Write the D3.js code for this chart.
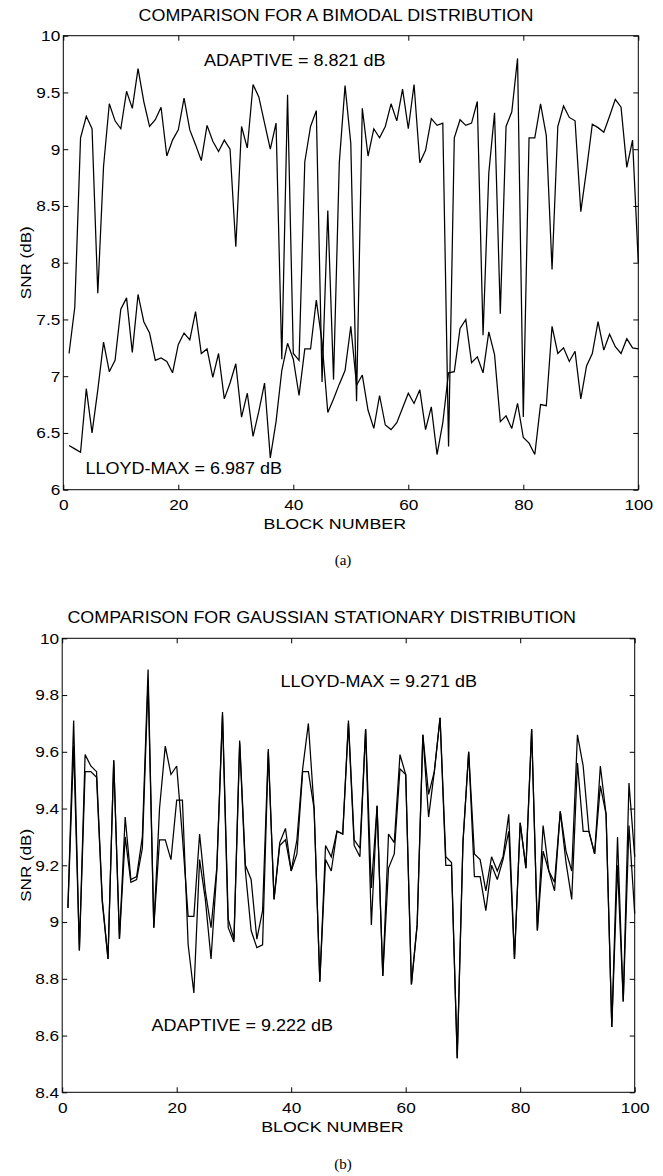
<!DOCTYPE html>
<html><head><meta charset="utf-8">
<script src="https://cdn.jsdelivr.net/npm/d3@7"></script>
<style>body{margin:0;background:#fff}svg{display:block}</style>
</head><body>
<svg id="c" width="663" height="1176"></svg>
<script>
const blocks = d3.range(1, 101);

const bimodalAdaptive = [7.20,7.61,9.10,9.29,9.18,7.73,8.85,9.40,9.25,9.18,
9.51,9.36,9.71,9.42,9.20,9.26,9.37,8.94,9.08,9.17,
9.45,9.17,9.04,8.90,9.21,9.07,8.98,9.08,9.00,8.14,
9.20,9.01,9.57,9.46,9.23,9.00,9.23,7.15,9.48,7.20,
7.14,8.89,9.20,9.34,6.95,8.46,6.97,8.88,9.56,9.05,
6.78,9.36,8.94,9.18,9.10,9.20,9.40,9.25,9.53,9.18,
9.57,8.88,8.99,9.27,9.21,9.23,6.38,9.10,9.26,9.21,
9.23,9.42,7.36,8.79,9.32,7.55,9.20,9.33,9.80,6.64,
9.10,9.10,9.40,9.12,7.94,9.20,9.38,9.28,9.25,8.45,
8.82,9.22,9.19,9.15,9.29,9.44,9.37,8.84,9.08,8.00];

const bimodalLloyd = [6.39,6.36,6.33,6.89,6.50,6.88,7.30,7.04,7.14,7.59,
7.69,7.21,7.72,7.48,7.38,7.14,7.16,7.13,7.03,7.28,
7.38,7.32,7.57,7.20,7.24,6.99,7.20,6.80,6.94,7.11,
6.64,6.85,6.47,6.69,6.94,6.28,6.60,7.05,7.29,7.15,
6.83,7.24,7.24,7.67,7.30,6.68,6.80,6.93,7.05,7.44,
6.92,7.01,6.70,6.54,6.83,6.57,6.53,6.59,6.72,6.85,
6.76,6.88,6.53,6.73,6.31,6.59,7.03,7.04,7.42,7.50,
7.12,7.17,7.03,7.39,7.19,6.60,6.65,6.54,6.76,6.46,
6.41,6.31,6.75,6.74,7.44,7.20,7.25,7.13,7.22,6.80,
7.09,7.20,7.48,7.23,7.37,7.26,7.20,7.33,7.25,7.24];

const gaussLloyd = [9.05,9.71,8.90,9.59,9.55,9.53,9.08,8.87,9.57,8.94,
9.37,9.15,9.16,9.30,9.89,8.98,9.40,9.62,9.52,9.55,
9.30,9.02,9.02,9.31,9.11,8.98,9.19,9.74,9.01,8.94,
9.64,9.20,9.15,8.94,9.04,9.61,9.08,9.28,9.33,9.18,
9.29,9.54,9.70,9.40,8.79,9.27,9.23,9.32,9.31,9.71,
9.29,9.26,9.68,9.12,9.41,8.81,9.31,9.28,9.59,9.52,
8.78,8.99,9.66,9.45,9.53,9.72,9.23,9.21,8.52,9.28,
9.60,9.24,9.22,9.11,9.23,9.18,9.23,9.38,8.87,9.35,
9.19,9.68,8.97,9.34,9.18,9.14,9.39,9.25,9.18,9.66,
9.55,9.32,9.24,9.55,9.38,8.63,9.30,8.72,9.49,9.23];

const gaussAdaptive = [9.05,9.62,8.90,9.53,9.53,9.51,9.07,8.87,9.57,8.94,
9.30,9.14,9.15,9.26,9.85,8.98,9.29,9.29,9.22,9.43,
9.43,8.92,8.75,9.22,9.08,8.87,9.18,9.73,8.98,8.93,
9.63,9.18,8.97,8.91,8.92,9.60,9.08,9.27,9.29,9.18,
9.24,9.53,9.53,9.40,8.79,9.22,9.18,9.32,9.31,9.70,
9.27,9.23,9.68,8.99,9.41,8.81,9.19,9.24,9.54,9.52,
8.78,8.99,9.66,9.37,9.53,9.72,9.20,9.20,8.52,9.28,
9.60,9.16,9.16,9.04,9.20,9.15,9.22,9.32,8.87,9.35,
9.19,9.68,8.97,9.25,9.18,9.11,9.39,9.21,9.08,9.56,
9.32,9.32,9.24,9.48,9.38,8.63,9.20,8.72,9.34,9.03];

const xTicks = [0, 20, 40, 60, 80, 100];
const yTicksA = [6, 6.5, 7, 7.5, 8, 8.5, 9, 9.5, 10];
const yTicksB = [8.4, 8.6, 8.8, 9, 9.2, 9.4, 9.6, 9.8, 10];

const titleA = "COMPARISON FOR A BIMODAL DISTRIBUTION";
const titleB = "COMPARISON FOR GAUSSIAN STATIONARY DISTRIBUTION";
const xLabel = "BLOCK NUMBER";
const yLabel = "SNR (dB)";

const svg = d3.select("#c");
const FONT = '"Liberation Sans", Arial, Helvetica, sans-serif';

function txt(g, x, y, s, size, sx, anchor, rot) {
  g.append("text")
    .attr("transform", `translate(${x},${y})` + (rot ? ` rotate(${rot})` : "") + ` scale(${sx},1)`)
    .attr("text-anchor", anchor || "start")
    .style("font-family", FONT).style("font-size", size + "px").style("fill", "#000")
    .text(s);
}

function panel(o) {
  const x = d3.scaleLinear().domain([0, 100]).range([o.left, o.right]);
  const y = d3.scaleLinear().domain(o.yDomain).range([o.bottom, o.top]);
  const g = svg.append("g");
  const TS = 5;
  const sx = 1.15;

  // box
  g.append("rect").attr("x", o.left).attr("y", o.top)
    .attr("width", o.right - o.left).attr("height", o.bottom - o.top)
    .attr("fill", "none").attr("stroke", "#000").attr("stroke-width", 1);

  const fmt = d => String(+d.toFixed(1));
  const ax = (gen, tx, ty, labels) => {
    const a = g.append("g").attr("transform", `translate(${tx},${ty})`).call(gen);
    a.select(".domain").remove();
    a.selectAll(".tick line").attr("stroke", "#000").attr("stroke-width", 1);
    a.selectAll(".tick text").style("font-family", FONT).style("font-size", "15px").attr("fill", "#000");
    if (!labels) a.selectAll(".tick text").remove();
    return a;
  };
  const left = ax(d3.axisLeft(y).tickValues(o.yTicks).tickSize(-TS).tickPadding(3).tickFormat(fmt), o.left, 0, true);
  left.selectAll(".tick text").each(function () {
    const t = d3.select(this); const px = +t.attr("x");
    t.attr("x", 0).attr("transform", `translate(${px},0) scale(${sx},1)`);
  });
  const bottom = ax(d3.axisBottom(x).tickValues(xTicks).tickSize(-TS).tickPadding(10).tickFormat(d3.format("d")), 0, o.bottom, true);
  bottom.selectAll(".tick text").each(function () {
    const t = d3.select(this); const py = +t.attr("y");
    t.attr("y", 0).attr("transform", `translate(0,${py}) scale(${sx},1)`);
  });
  ax(d3.axisRight(y).tickValues(o.yTicks).tickSize(-TS), o.right, 0, false);
  ax(d3.axisTop(x).tickValues(xTicks).tickSize(-TS), 0, o.top, false);

  const line = d3.line().x((d, i) => x(blocks[i])).y(d => y(d));
  o.series.forEach(s => {
    g.append("path").datum(s).attr("d", line)
      .attr("fill", "none").attr("stroke", "#000").attr("stroke-width", 1.25)
      .attr("stroke-linejoin", "miter").attr("stroke-miterlimit", 3);
  });

  txt(g, o.titleX, o.top - 15, o.title, 16, 1.12, "middle");
  txt(g, (o.left + o.right) / 2 - 16, o.bottom + 39.5, xLabel, 15.5, 1.15, "middle");
  txt(g, 31, (o.top + o.bottom) / 2, yLabel, 15.5, 1.1, "middle", -90);
  o.notes.forEach(n => txt(g, n.x, n.y, n.text, 17, 1.06, "start"));
  g.append("text").attr("x", 343).attr("y", o.capY).attr("text-anchor", "middle")
    .style("font-family", '"Liberation Serif", "Times New Roman", serif').style("font-size", "15px")
    .text(o.caption);
}

panel({
  left: 63.3, right: 638.3, top: 35.7, bottom: 489.7,
  yDomain: [6, 10], yTicks: yTicksA,
  series: [bimodalAdaptive, bimodalLloyd],
  title: titleA, titleX: 336,
  notes: [{x: 204, y: 65.5, text: "ADAPTIVE = 8.821 dB"},
          {x: 85.5, y: 474, text: "LLOYD-MAX = 6.987 dB"}],
  caption: "(a)", capY: 565
});

panel({
  left: 62.2, right: 634.7, top: 638.3, bottom: 1092.3,
  yDomain: [8.4, 10], yTicks: yTicksB,
  series: [gaussLloyd, gaussAdaptive],
  title: titleB, titleX: 321.7,
  notes: [{x: 280.5, y: 687.3, text: "LLOYD-MAX = 9.271 dB"},
          {x: 151.5, y: 1030.7, text: "ADAPTIVE = 9.222 dB"}],
  caption: "(b)", capY: 1169
});
</script>
</body></html>
